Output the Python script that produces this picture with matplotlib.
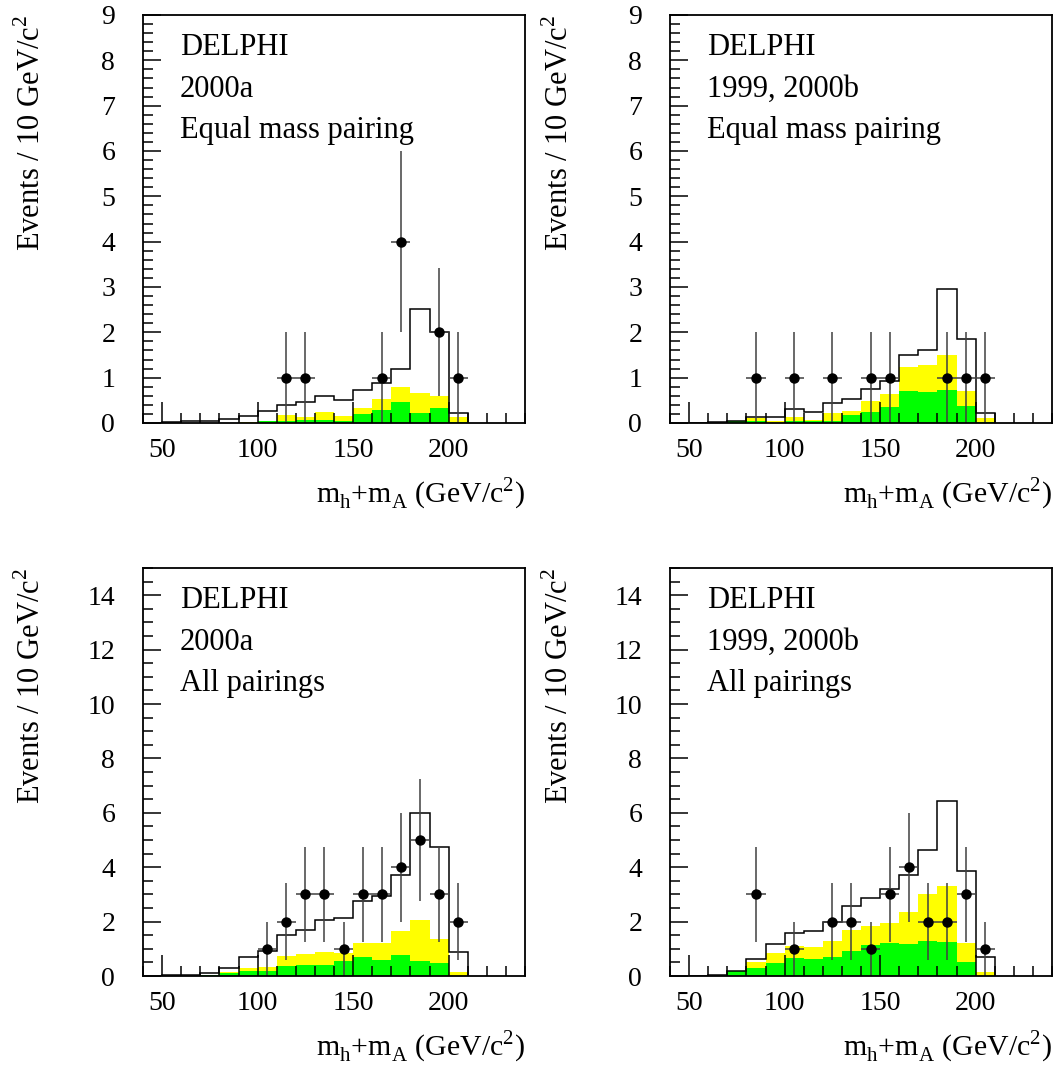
# DELPHI hA -> 4b mass sum distributions, 4 panels
import numpy as np
import matplotlib
matplotlib.use("Agg")
import matplotlib.pyplot as plt
from matplotlib.ticker import MultipleLocator

plt.rcParams['font.family'] = ['Liberation Serif', 'DejaVu Serif']
plt.rcParams['mathtext.fontset'] = 'custom'
plt.rcParams['mathtext.rm'] = 'Liberation Serif'

bin_edges = [50, 60, 70, 80, 90, 100, 110, 120, 130, 140, 150, 160, 170, 180, 190, 200, 210]

# top left: 2000a, equal mass pairing
tl_total = [0.02, 0.04, 0.04, 0.09, 0.15, 0.26, 0.40, 0.46, 0.60, 0.51, 0.72, 0.88, 1.20, 2.51, 2.00, 0.22]
tl_yellow = [0.0, 0.0, 0.0, 0.0, 0.02, 0.03, 0.17, 0.13, 0.24, 0.15, 0.33, 0.54, 0.79, 0.66, 0.60, 0.13]
tl_green = [0.0, 0.0, 0.0, 0.0, 0.01, 0.04, 0.05, 0.06, 0.07, 0.05, 0.20, 0.29, 0.46, 0.22, 0.32, 0.02]
tl_data_x = [115, 125, 165, 175, 195, 205]
tl_data_n = [1, 1, 1, 4, 2, 1]

# top right: 1999, 2000b, equal mass pairing
tr_total = [0.01, 0.02, 0.05, 0.13, 0.13, 0.31, 0.24, 0.44, 0.54, 0.74, 0.92, 1.49, 1.62, 2.96, 1.86, 0.21]
tr_yellow = [0.0, 0.0, 0.05, 0.11, 0.04, 0.13, 0.07, 0.21, 0.27, 0.48, 0.64, 1.23, 1.29, 1.49, 0.71, 0.12]
tr_green = [0.0, 0.0, 0.05, 0.05, 0.01, 0.05, 0.04, 0.05, 0.17, 0.24, 0.35, 0.71, 0.69, 0.72, 0.37, 0.03]
tr_data_x = [85, 105, 125, 145, 155, 185, 195, 205]
tr_data_n = [1, 1, 1, 1, 1, 1, 1, 1]

# bottom left: 2000a, all pairings
bl_total = [0.02, 0.04, 0.10, 0.28, 0.69, 0.93, 1.51, 1.69, 2.06, 2.14, 2.76, 2.94, 3.71, 6.00, 4.73, 0.87]
bl_yellow = [0.0, 0.0, 0.04, 0.13, 0.31, 0.32, 0.75, 0.80, 0.89, 0.86, 1.23, 1.20, 1.67, 2.06, 1.36, 0.16]
bl_green = [0.0, 0.0, 0.02, 0.10, 0.20, 0.20, 0.38, 0.40, 0.39, 0.55, 0.70, 0.59, 0.77, 0.55, 0.49, 0.0]
bl_data_x = [105, 115, 125, 135, 145, 155, 165, 175, 185, 195, 205]
bl_data_n = [1, 2, 3, 3, 1, 3, 3, 4, 5, 3, 2]

# bottom right: 1999, 2000b, all pairings
br_total = [0.0, 0.02, 0.20, 0.64, 1.16, 1.59, 1.67, 2.00, 2.57, 2.86, 3.20, 3.71, 4.63, 6.45, 3.87, 0.69]
br_yellow = [0.0, 0.0, 0.20, 0.51, 0.86, 1.12, 1.07, 1.29, 1.69, 1.85, 1.95, 2.34, 3.03, 3.30, 1.20, 0.13]
br_green = [0.0, 0.0, 0.18, 0.31, 0.49, 0.67, 0.63, 0.71, 0.92, 1.14, 1.23, 1.18, 1.29, 1.26, 0.53, 0.0]
br_data_x = [85, 105, 125, 135, 145, 155, 165, 175, 185, 195, 205]
br_data_n = [3, 1, 2, 2, 1, 3, 4, 2, 2, 3, 1]

panels = [
    (tl_total, tl_yellow, tl_green, tl_data_x, tl_data_n, ["DELPHI", "2000a", "Equal mass pairing"], 9, 1, 0.2),
    (tr_total, tr_yellow, tr_green, tr_data_x, tr_data_n, ["DELPHI", "1999, 2000b", "Equal mass pairing"], 9, 1, 0.2),
    (bl_total, bl_yellow, bl_green, bl_data_x, bl_data_n, ["DELPHI", "2000a", "All pairings"], 15, 2, 0.5),
    (br_total, br_yellow, br_green, br_data_x, br_data_n, ["DELPHI", "1999, 2000b", "All pairings"], 15, 2, 0.5),
]

W, H = 1057, 1068
fig = plt.figure(figsize=(W / 100, H / 100), dpi=100)
lefts = [143, 670, 143, 670]
tops = [15, 15, 568, 568]
aw, ah = 382, 408

for i, (tot, yel, grn, dx, dn, texts, ymax, ymaj, ymin) in enumerate(panels):
    ax = fig.add_axes([lefts[i] / W, 1 - (tops[i] + ah) / H, aw / W, ah / H])
    ax.stairs(yel, bin_edges, fill=True, color='#ffff00', lw=0)
    ax.stairs(grn, bin_edges, fill=True, color='#00ff00', lw=0)
    ax.stairs(tot, bin_edges, color='black', lw=1.1)
    dn = np.array(dn, dtype=float)
    ax.errorbar(dx, dn, xerr=5, yerr=np.sqrt(dn), fmt='o', color='black',
                ecolor='#404040', elinewidth=1.1, capsize=0, markersize=6.5)

    ax.set_xlim(40, 240)
    ax.set_ylim(0, ymax)
    ax.xaxis.set_major_locator(MultipleLocator(50))
    ax.xaxis.set_minor_locator(MultipleLocator(10))
    ax.yaxis.set_major_locator(MultipleLocator(ymaj))
    ax.yaxis.set_minor_locator(MultipleLocator(ymin))
    ax.tick_params(axis='both', which='both', direction='in', top=False, right=False,
                   labelsize=20, width=1.1)
    ax.tick_params(axis='x', which='major', length=15, pad=11)
    ax.tick_params(axis='y', which='major', length=13, pad=20)
    ax.tick_params(axis='both', which='minor', length=7)
    for s in ax.spines.values():
        s.set_linewidth(1.3)

    ax.set_xlabel(r'm$_\mathregular{h}$+m$_\mathregular{A}$ (GeV/c$^\mathregular{2}$)', fontsize=21.5, ha='right')
    ax.xaxis.set_label_coords(1.0, -0.13)
    ax.set_ylabel(r'Events / 10 GeV/c$^\mathregular{2}$', fontsize=22, ha='right')
    ax.yaxis.set_label_coords(-0.25, 1.0)

    for j, t in enumerate(texts):
        ax.text(0.097, 0.902 - j * 0.102, t, transform=ax.transAxes, fontsize=22, va='baseline')

fig.savefig('out.png', dpi=100)
